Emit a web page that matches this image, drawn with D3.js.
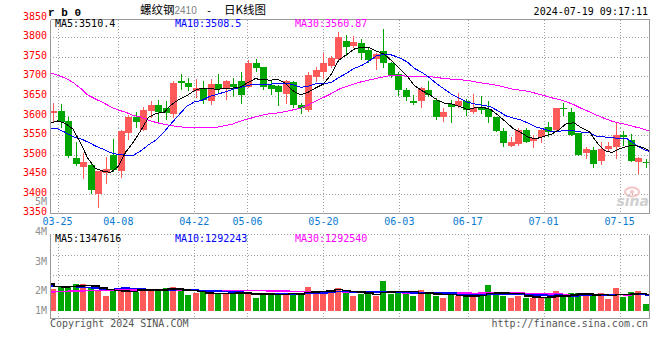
<!DOCTYPE html>
<html><head><meta charset="utf-8">
<script src="https://cdn.jsdelivr.net/npm/d3@7"></script>
<style>body{margin:0;background:#fff}svg{display:block}</style>
</head><body><svg id="c" width="660" height="360"></svg>
<script>
// ---------- data ----------
const dates = ["03-22","03-25","03-26","03-27","03-28","03-29","04-01","04-02","04-03","04-08","04-09","04-10","04-11","04-12","04-15","04-16","04-17","04-18","04-19","04-22","04-23","04-24","04-25","04-26","04-29","04-30","05-06","05-07","05-08","05-09","05-10","05-13","05-14","05-15","05-16","05-17","05-20","05-21","05-22","05-23","05-24","05-27","05-28","05-29","05-30","05-31","06-03","06-04","06-05","06-06","06-07","06-11","06-12","06-13","06-14","06-17","06-18","06-19","06-20","06-21","06-24","06-25","06-26","06-27","06-28","07-01","07-02","07-03","07-04","07-05","07-08","07-09","07-10","07-11","07-12","07-15","07-16","07-17","07-18","07-19"];
const labelDates = ["03-25","04-08","04-22","05-06","05-20","06-03","06-17","07-01","07-15"];
const openP  = [3607,3612,3586,3492,3469,3474,3399,3454,3499,3458,3556,3595,3563,3612,3627,3618,3604,3687,3682,3663,3670,3636,3681,3670,3681,3688,3674,3734,3725,3678,3676,3655,3686,3627,3614,3699,3710,3727,3744,3791,3779,3786,3768,3745,3765,3735,3706,3665,3638,3636,3665,3640,3597,3629,3625,3637,3608,3618,3616,3595,3561,3523,3527,3563,3535,3546,3570,3563,3618,3608,3555,3503,3512,3484,3514,3520,3549,3537,3480,3480];
const highP  = [3631,3630,3597,3532,3505,3476,3457,3495,3539,3563,3601,3608,3621,3638,3640,3636,3687,3705,3695,3693,3687,3693,3705,3691,3695,3712,3742,3744,3725,3691,3678,3691,3688,3631,3710,3725,3759,3752,3813,3806,3804,3795,3772,3759,3821,3738,3712,3670,3653,3674,3688,3644,3618,3640,3657,3641,3655,3650,3638,3597,3567,3544,3567,3567,3550,3567,3584,3620,3631,3618,3556,3519,3519,3532,3533,3580,3561,3552,3495,3488];
const lowP   = [3584,3570,3495,3473,3439,3403,3367,3428,3459,3444,3539,3570,3563,3597,3586,3591,3597,3667,3664,3648,3631,3630,3661,3642,3650,3633,3674,3715,3668,3655,3627,3631,3623,3606,3612,3689,3695,3725,3742,3755,3776,3744,3738,3719,3725,3699,3653,3640,3630,3621,3650,3590,3587,3583,3621,3601,3607,3606,3583,3561,3523,3522,3525,3533,3520,3532,3548,3561,3601,3550,3499,3492,3469,3476,3512,3491,3525,3484,3454,3469];
const closeP = [3612,3584,3497,3476,3482,3410,3457,3463,3461,3561,3595,3584,3614,3627,3608,3606,3684,3682,3674,3671,3640,3681,3668,3687,3674,3653,3735,3722,3674,3668,3661,3687,3627,3620,3704,3716,3735,3748,3802,3774,3789,3761,3742,3757,3735,3704,3664,3647,3631,3670,3653,3595,3608,3621,3637,3614,3619,3614,3595,3561,3531,3532,3563,3533,3543,3563,3559,3618,3616,3550,3499,3514,3476,3514,3522,3550,3546,3484,3491,3478];
const volume = [1520000,1590000,1590000,1700000,1700000,1590000,1490000,1290000,1470000,1490000,1550000,1410000,1520000,1460000,1510000,1540000,1580000,1490000,1320000,1390000,1410000,1340000,1390000,1340000,1350000,1490000,1340000,1230000,1370000,1320000,1390000,1390000,1340000,1340000,1580000,1430000,1460000,1450000,1560000,1410000,1290000,1340000,1340000,1280000,1790000,1350000,1390000,1340000,1290000,1490000,1370000,1290000,1230000,1320000,1290000,1260000,1320000,1320000,1650000,1370000,1280000,1230000,1280000,1230000,1230000,1230000,1260000,1450000,1280000,1380000,1380000,1280000,1270000,1380000,1180000,1550000,1260000,1420000,1450000,1010000];
// moving-average values at the start of the window (history not shown)
const ma5Lead  = [3580,3586,3580,3566];
const ma10Lead = [3567,3566,3557,3546,3541,3532,3522,3514,3505];
const ma30Lead = [3709,3703,3696,3685,3670,3652,3642,3633,3622,3614,3608,3600,3596,3588,3582,3578,3574,3571,3570,3569,3569,3569,3570,3574,3578,3585,3591,3596,3601];
const vma5Lead  = [1680000,1600000,1580000,1600000];
const vma10Lead = [1620000,1600000,1600000,1600000,1580000,1570000,1550000,1520000,1510000];
const vma30Lead = [1410000,1430000,1440000,1450000,1450000,1460000,1470000,1480000,1480000,1480000,1480000,1480000,1480000,1480000,1480000,1480000,1480000,1480000,1480000,1480000,1470000,1470000,1470000,1470000,1470000,1470000,1470000,1470000,1470000];
const priceTicks = [3850,3800,3750,3700,3650,3600,3550,3500,3450,3400,3350];
const volTicks = [5e6,4e6,3e6,2e6,1e6];
const volTickLabels = ["5M","4M","3M","2M","1M"];
const priceMaText = ["MA5:3510.4","MA10:3508.5","MA30:3560.87"];
const volMaText = ["MA5:1347616","MA10:1292243","MA30:1292540"];
const titleCode = "r b 0";
const titleName = "螺纹钢", titleContract = "2410", titleDash = "-", titleKind = "日K线图";
const stamp = "2024-07-19 09:17:11";
const footLeft = "Copyright 2024 SINA.COM", footRight = "http://finance.sina.com.cn";

// ---------- helpers ----------
function movAvg(arr, n, lead){ return arr.map((_, i) => i >= n-1 ? d3.mean(arr.slice(i-n+1, i+1)) : lead[i]); }
const ma5 = movAvg(closeP,5,ma5Lead), ma10 = movAvg(closeP,10,ma10Lead), ma30 = movAvg(closeP,30,ma30Lead);
const vma5 = movAvg(volume,5,vma5Lead), vma10 = movAvg(volume,10,vma10Lead), vma30 = movAvg(volume,30,vma30Lead);

const UP = "#ff5a5a", DOWN = "#00a600", GRID = "#a0a0a0", AX = "#999";
const MONO = "'DejaVu Sans Mono', monospace";
const svg = d3.select("#c");
const L = 50, R = 650, PT = 19.5, PB = 213.5, VT = 234.5, VB = 318.5;

const idx = d3.range(dates.length);
const xBand = d3.scaleBand().domain(idx).range([L, R]);
const cx = i => xBand(i) + xBand.bandwidth()/2;
const xLine = d3.scaleLinear().domain([0, dates.length-1]).range([L, R]);
const yP = d3.scaleLinear().domain([3350, 3800]).range([213.3, 37.3]);
const yV = d3.scaleLinear().domain([1e6, 2e6]).range([304.4, 274.7]);
const yVLab = d3.scaleLinear().domain([1e6, 4e6]).range([320.4, 231.3]);
const volBase = 311;

// ---------- grid ----------
const g = svg.append("g").attr("shape-rendering","crispEdges");
priceTicks.filter(v => v < 3850 && v > 3350).forEach(v => {
  const y = Math.round(yP(v)) + 0.5;
  g.append("line").attr("x1",L).attr("x2",R).attr("y1",y).attr("y2",y)
   .attr("stroke",GRID).attr("stroke-dasharray","1,2");
});
labelDates.forEach(d => {
  const x = Math.round(xLine(dates.indexOf(d))) + 0.5;
  g.append("line").attr("x1",x).attr("x2",x).attr("y1",PT).attr("y2",PB).attr("stroke",GRID).attr("stroke-dasharray","1,2");
  g.append("line").attr("x1",x).attr("x2",x).attr("y1",VT).attr("y2",VB).attr("stroke",GRID).attr("stroke-dasharray","1,2");
});
[VT, 255.5, 275.5].forEach(y => g.append("line").attr("x1",L).attr("x2",R).attr("y1",y).attr("y2",y)
   .attr("stroke",GRID).attr("stroke-dasharray","1,2"));

// watermark
const wm = svg.append("g");
wm.append("ellipse").attr("cx",632).attr("cy",192).attr("rx",7).attr("ry",4.5).attr("fill","none").attr("stroke","#f4c4c4").attr("stroke-width",2);
wm.append("circle").attr("cx",632).attr("cy",192).attr("r",2).attr("fill","#f4c4c4");
wm.append("text").attr("x",649).attr("y",206).attr("text-anchor","end").attr("font-family","'DejaVu Sans', sans-serif")
  .attr("font-style","italic").attr("font-weight","bold").attr("font-size",14).attr("fill","#cfcfcf").text("sina");

// ---------- candles ----------
const cg = svg.append("g").attr("shape-rendering","crispEdges");
idx.forEach(i => {
  const up = closeP[i] >= openP[i];
  const col = up ? UP : DOWN;
  const xc = Math.floor(cx(i));
  cg.append("line").attr("x1",xc+0.5).attr("x2",xc+0.5)
    .attr("y1",Math.round(yP(highP[i]))).attr("y2",Math.round(yP(lowP[i]))+1).attr("stroke",col);
  const y0 = Math.round(yP(Math.max(openP[i],closeP[i]))), y1 = Math.round(yP(Math.min(openP[i],closeP[i])));
  cg.append("rect").attr("x",xc-3).attr("width",7).attr("y",y0).attr("height",Math.max(1,y1-y0)).attr("fill",col);
  const vy = Math.round(yV(volume[i]));
  cg.append("rect").attr("x",xc-3).attr("width",6).attr("y",vy).attr("height",volBase-vy).attr("fill",col);
});

// ---------- MA lines ----------
const line = ys => d3.line().x((d,i) => xLine(i)).y(d => ys(d));
const lg = svg.append("g").attr("fill","none").attr("shape-rendering","crispEdges");
[[ma30,"#ff00ff"],[ma10,"#0000ff"],[ma5,"#000"]].forEach(([a,c]) =>
  lg.append("path").attr("d",line(yP)(a)).attr("stroke",c).attr("stroke-width",1));
[[vma30,"#ff00ff"],[vma10,"#0000ff"],[vma5,"#000"]].forEach(([a,c]) =>
  lg.append("path").attr("d",line(yV).curve(d3.curveStep)(a)).attr("stroke",c).attr("stroke-width",1.5));

// ---------- frames ----------
const fg = svg.append("g").attr("stroke",AX).attr("fill","none").attr("shape-rendering","crispEdges");
fg.append("path").attr("d",`M${L+0.5},${PT}V${PB}H${R-0.5}V${PT}H${L+0.5}`);
fg.append("path").attr("d",`M${L+0.5},${VT}V${VB}H${R-0.5}V${VT}`);

// ---------- texts ----------
const T = (x,y,s,o={}) => svg.append("text").attr("x",x).attr("y",y).attr("font-family",o.f||MONO)
   .attr("font-size",o.s||10).attr("fill",o.c||"#000").attr("text-anchor",o.a||"start")
   .attr("font-weight",o.w||"normal").text(s);
priceTicks.forEach(v => T(47, yP(v)+2, v, {c:"#f00", a:"end"}));
labelDates.forEach(d => T(xLine(dates.indexOf(d)), 225, d, {c:"#0a7ad0", a:"middle"}));
volTicks.forEach((v,k) => T(47, Math.min(yVLab(v), 310)+3.5, volTickLabels[k], {c:"#909090", a:"end"}));
const maCols = ["#000","#0000ff","#ff00ff"], maX = [55,175,295];
priceMaText.forEach((s,k) => T(maX[k], 27, s, {c:maCols[k]}));
volMaText.forEach((s,k) => T(maX[k], 242, s, {c:maCols[k]}));
T(48, 15.5, titleCode, {w:"bold", s:11, f:"'Liberation Mono', monospace"});
T(140, 13.5, titleName, {f:"'Noto Sans CJK SC', sans-serif", s:11.5});
T(174.5, 13.5, titleContract, {f:"'Liberation Sans', Arial, sans-serif", s:10, c:"#808080"});
T(206, 13.5, titleDash, {f:MONO, s:10});
T(224, 13.5, titleKind, {f:"'Noto Sans CJK SC', sans-serif", s:11.5});
T(648, 15, stamp, {a:"end"});
T(50, 327, footLeft, {c:"#555"});
T(648, 327, footRight, {c:"#555", a:"end"});
</script></body></html>
